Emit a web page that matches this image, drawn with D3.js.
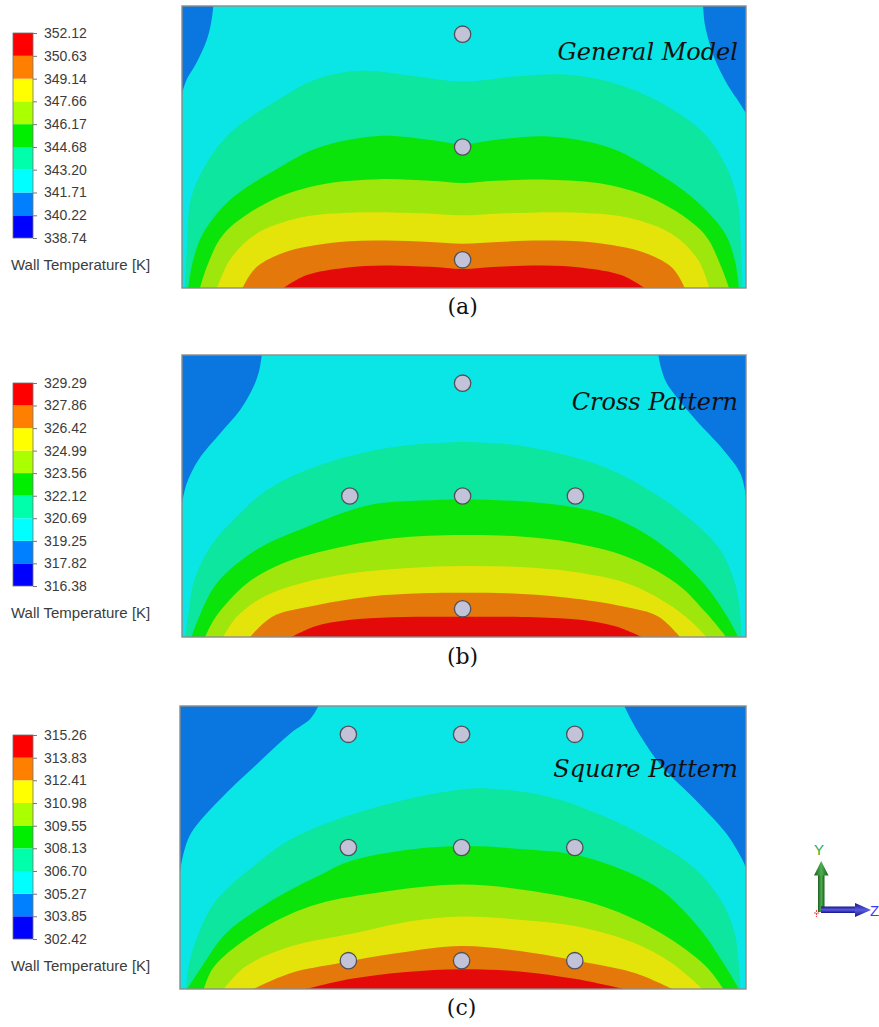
<!DOCTYPE html>
<html>
<head>
<meta charset="utf-8">
<script src="https://cdn.jsdelivr.net/npm/d3@7"></script>
<style>
  body { margin: 0; background: #ffffff; }
  svg text { font-family: "Liberation Sans", Arial, sans-serif; }
</style>
</head>
<body>
<svg id="fig" width="879" height="1027"></svg>
<script>
// ---------- legend levels (wall temperature, K) ----------
const generalLevels = [338.74, 340.22, 341.71, 343.20, 344.68, 346.17, 347.66, 349.14, 350.63, 352.12];
const crossLevels   = [316.38, 317.82, 319.25, 320.69, 322.12, 323.56, 324.99, 326.42, 327.86, 329.29];
const squareLevels  = [302.42, 303.85, 305.27, 306.70, 308.13, 309.55, 310.98, 312.41, 313.83, 315.26];

const panelTitles = ["General Model", "Cross Pattern", "Square Pattern"];
const panelCaptions = ["(a)", "(b)", "(c)"];
const legendTitle = "Wall Temperature [K]";

// ---------- isotherm traces on the wall, [z, y] with z in 0..2, y in 0..1 ----------
// General model
const generalBlueL  = [[0.111,1],[0.105,0.95],[0.088,0.88],[0.052,0.80],[0.017,0.74],[0,0.69]];
const generalBlueR  = [[1.848,1],[1.855,0.93],[1.89,0.81],[1.935,0.72],[1.975,0.66],[2,0.62]];
const generalTeal   = [[0.011,0],[0.018,0.15],[0.03,0.31],[0.08,0.43],[0.17,0.55],[0.34,0.667],[0.47,0.738],[0.63,0.77],[0.82,0.752],[0.995,0.732],[1.18,0.75],[1.36,0.757],[1.52,0.73],[1.68,0.667],[1.85,0.55],[1.93,0.43],[1.97,0.31],[1.982,0.15],[1.988,0]];
const generalGreen  = [[0.022,0],[0.04,0.10],[0.075,0.194],[0.17,0.312],[0.35,0.43],[0.49,0.50],[0.70,0.539],[0.88,0.525],[0.995,0.51],[1.11,0.525],[1.30,0.537],[1.51,0.50],[1.65,0.43],[1.82,0.312],[1.925,0.194],[1.96,0.10],[1.975,0]];
const generalLime   = [[0.064,0],[0.09,0.08],[0.15,0.194],[0.32,0.312],[0.50,0.368],[0.70,0.386],[0.88,0.38],[0.995,0.372],[1.11,0.38],[1.30,0.384],[1.50,0.368],[1.68,0.312],[1.85,0.194],[1.91,0.08],[1.94,0]];
const generalYellow = [[0.125,0],[0.17,0.10],[0.26,0.19],[0.42,0.25],[0.62,0.268],[0.85,0.265],[0.995,0.258],[1.15,0.265],[1.38,0.268],[1.58,0.25],[1.74,0.19],[1.83,0.10],[1.87,0]];
const generalOrange = [[0.215,0],[0.26,0.07],[0.36,0.125],[0.55,0.162],[0.72,0.168],[0.88,0.163],[0.995,0.157],[1.12,0.163],[1.28,0.168],[1.45,0.162],[1.64,0.125],[1.74,0.07],[1.783,0]];
const generalRed    = [[0.36,0],[0.44,0.045],[0.58,0.072],[0.72,0.08],[0.88,0.075],[0.995,0.067],[1.12,0.075],[1.28,0.08],[1.42,0.072],[1.56,0.045],[1.64,0]];

// Cross pattern
const crossBlueL  = [[0.283,1],[0.275,0.95],[0.259,0.90],[0.206,0.805],[0.135,0.722],[0.058,0.628],[0.017,0.545],[0,0.474]];
const crossBlueR  = [[1.689,1],[1.70,0.95],[1.719,0.90],[1.813,0.78],[1.92,0.663],[1.98,0.58],[2,0.50]];
const crossTeal   = [[0.012,0],[0.025,0.10],[0.04,0.19],[0.094,0.31],[0.194,0.427],[0.30,0.52],[0.442,0.592],[0.631,0.651],[0.80,0.68],[0.95,0.69],[1.05,0.69],[1.22,0.675],[1.46,0.616],[1.636,0.533],[1.79,0.427],[1.908,0.309],[1.967,0.167],[1.985,0]];
const crossGreen  = [[0.034,0],[0.06,0.07],[0.123,0.19],[0.265,0.31],[0.442,0.39],[0.60,0.45],[0.70,0.474],[0.85,0.484],[0.995,0.488],[1.22,0.48],[1.39,0.46],[1.52,0.427],[1.695,0.332],[1.85,0.19],[1.935,0.07],[1.972,0]];
const crossLime   = [[0.082,0],[0.12,0.072],[0.23,0.19],[0.354,0.26],[0.525,0.31],[0.75,0.35],[0.995,0.362],[1.20,0.356],[1.38,0.335],[1.577,0.285],[1.754,0.19],[1.86,0.084],[1.93,0]];
const crossYellow = [[0.146,0],[0.194,0.072],[0.29,0.143],[0.42,0.19],[0.60,0.226],[0.80,0.245],[0.995,0.252],[1.20,0.248],[1.38,0.232],[1.58,0.19],[1.72,0.12],[1.80,0.06],[1.86,0]];
const crossOrange = [[0.241,0],[0.32,0.072],[0.449,0.107],[0.66,0.143],[0.85,0.155],[0.995,0.157],[1.15,0.155],[1.36,0.14],[1.57,0.107],[1.69,0.072],[1.766,0]];
const crossRed    = [[0.389,0],[0.47,0.037],[0.59,0.06],[0.75,0.07],[0.995,0.072],[1.25,0.07],[1.42,0.06],[1.54,0.037],[1.63,0]];

// Square pattern
const squareBlueL  = [[0.489,1],[0.46,0.954],[0.395,0.907],[0.265,0.788],[0.141,0.67],[0.04,0.552],[0.01,0.469],[0,0.41]];
const squareBlueR  = [[1.57,1],[1.595,0.95],[1.63,0.89],[1.70,0.79],[1.82,0.67],[1.93,0.55],[1.98,0.47],[2,0.43]];
const squareTeal   = [[0.022,0],[0.03,0.079],[0.066,0.197],[0.13,0.316],[0.26,0.434],[0.39,0.528],[0.59,0.611],[0.80,0.67],[0.995,0.705],[1.10,0.708],[1.30,0.68],[1.45,0.63],[1.62,0.552],[1.81,0.434],[1.91,0.316],[1.96,0.197],[1.975,0.08],[1.98,0]];
const squareGreen  = [[0.025,0],[0.077,0.079],[0.163,0.197],[0.33,0.316],[0.49,0.40],[0.60,0.451],[0.77,0.487],[0.995,0.505],[1.20,0.495],[1.42,0.469],[1.68,0.363],[1.83,0.221],[1.92,0.092],[1.975,0]];
const squareLime   = [[0.084,0],[0.12,0.079],[0.265,0.197],[0.46,0.292],[0.69,0.339],[0.995,0.369],[1.25,0.345],[1.50,0.29],[1.70,0.197],[1.86,0.079],[1.92,0]];
const squareYellow = [[0.155,0],[0.23,0.079],[0.39,0.15],[0.615,0.197],[0.82,0.24],[0.995,0.256],[1.2,0.245],[1.40,0.222],[1.60,0.165],[1.74,0.09],[1.846,0]];
const squareOrange = [[0.259,0],[0.39,0.056],[0.56,0.091],[0.77,0.127],[0.995,0.152],[1.23,0.13],[1.44,0.093],[1.61,0.056],[1.74,0]];
const squareRed    = [[0.447,0],[0.60,0.035],[0.80,0.06],[0.995,0.07],[1.20,0.062],[1.40,0.035],[1.567,0]];

// ---------- thermocouple / probe locations [z, y] ----------
const generalProbes = [[0.995,0.9],[0.995,0.5],[0.995,0.1]];
const crossProbes   = [[0.995,0.9],[0.595,0.5],[0.995,0.5],[1.395,0.5],[0.995,0.1]];
const squareProbes  = [[0.595,0.9],[0.995,0.9],[1.395,0.9],[0.595,0.5],[0.995,0.5],[1.395,0.5],[0.595,0.1],[0.995,0.1],[1.395,0.1]];

// ---------- colours ----------
// legend (flat) and surface (shaded) colours, coldest band first
const legendColors  = ["#0000ff","#0080ff","#00ffff","#00ffaa","#00ee00","#aaff00","#ffff00","#ff8000","#ff0000"];
const surfaceColors = ["#0a0ae3","#0a76e0","#0ae6e6","#0ce69e","#0ae40a","#9ee60b","#e4e40b","#e4780a","#e40a0a"];

// ---------- layout ----------
const layout = [
  { x0: 182, x1: 746, y0: 6,   y1: 288, barTop: 33,  barBot: 238, capY: 314,  titleY: 60 },
  { x0: 182, x1: 746, y0: 355, y1: 637, barTop: 383, barBot: 586, capY: 664,  titleY: 410 },
  { x0: 180, x1: 746, y0: 706, y1: 989, barTop: 735, barBot: 939, capY: 1015, titleY: 777 }
];

const panels = [
  { levels: generalLevels, blueL: generalBlueL, blueR: generalBlueR,
    arches: [generalTeal, generalGreen, generalLime, generalYellow, generalOrange, generalRed], probes: generalProbes },
  { levels: crossLevels, blueL: crossBlueL, blueR: crossBlueR,
    arches: [crossTeal, crossGreen, crossLime, crossYellow, crossOrange, crossRed], probes: crossProbes },
  { levels: squareLevels, blueL: squareBlueL, blueR: squareBlueR,
    arches: [squareTeal, squareGreen, squareLime, squareYellow, squareOrange, squareRed], probes: squareProbes }
];

const svg = d3.select("#fig");
svg.append("rect").attr("width", 879).attr("height", 1027).attr("fill", "#ffffff");

panels.forEach((p, i) => {
  const L = layout[i];
  const x = d3.scaleLinear().domain([0, 2]).range([L.x0, L.x1]);
  const y = d3.scaleLinear().domain([0, 1]).range([L.y1, L.y0]);
  const line = d3.line().x(d => x(d[0])).y(d => y(d[1])).curve(d3.curveCatmullRom.alpha(0.5));

  const clipId = "wall" + i;
  svg.append("clipPath").attr("id", clipId)
    .append("rect").attr("x", L.x0).attr("y", L.y0)
    .attr("width", L.x1 - L.x0).attr("height", L.y1 - L.y0);

  const g = svg.append("g").attr("clip-path", `url(#${clipId})`);

  // base band (cyan) covering the wall
  g.append("rect").attr("x", L.x0).attr("y", L.y0)
    .attr("width", L.x1 - L.x0).attr("height", L.y1 - L.y0)
    .attr("fill", surfaceColors[2]);

  // cooler corners at the top edge
  const lp = p.blueL;
  g.append("path")
    .attr("d", line(lp) + `L${x(-0.05)},${y(lp[lp.length - 1][1])}L${x(-0.05)},${y(1.05)}L${x(lp[0][0])},${y(1.05)}Z`)
    .attr("fill", surfaceColors[1]);
  const rp = p.blueR;
  g.append("path")
    .attr("d", line(rp) + `L${x(2.05)},${y(rp[rp.length - 1][1])}L${x(2.05)},${y(1.05)}L${x(rp[0][0])},${y(1.05)}Z`)
    .attr("fill", surfaceColors[1]);

  // warmer bands rising from the heated bottom edge
  p.arches.forEach((pts, k) => {
    const first = pts[0], last = pts[pts.length - 1];
    g.append("path")
      .attr("d", line(pts) + `L${x(last[0])},${y(-0.05)}L${x(first[0])},${y(-0.05)}Z`)
      .attr("fill", surfaceColors[3 + k]);
  });

  // wall outline
  svg.append("rect").attr("x", L.x0).attr("y", L.y0)
    .attr("width", L.x1 - L.x0).attr("height", L.y1 - L.y0)
    .attr("fill", "none").attr("stroke", "#8c8c8c").attr("stroke-width", 1.4);

  // probes
  svg.append("g").selectAll("circle").data(p.probes).join("circle")
    .attr("cx", d => x(d[0])).attr("cy", d => y(d[1])).attr("r", 8.2)
    .attr("fill", "#c2c2d8").attr("stroke", "#505058").attr("stroke-width", 1.3);

  // panel title
  svg.append("text").attr("x", L.x1 - 8).attr("y", L.titleY)
    .attr("text-anchor", "end")
    .style("font-family", "'DejaVu Serif', serif").style("font-style", "italic")
    .style("font-size", "24px").attr("fill", "#111")
    .text(panelTitles[i]);

  // caption
  svg.append("text").attr("x", x(0.995)).attr("y", L.capY)
    .attr("text-anchor", "middle")
    .style("font-family", "'DejaVu Serif', serif").style("font-size", "22px").attr("fill", "#111")
    .text(panelCaptions[i]);

  // ---------- colour legend ----------
  const lv = p.levels;
  const ls = d3.scaleLinear().domain([lv[0], lv[lv.length - 1]]).range([L.barBot, L.barTop]);
  const lg = svg.append("g");
  lg.selectAll("rect.band").data(d3.range(lv.length - 1)).join("rect")
    .attr("class", "band")
    .attr("x", 13).attr("width", 20)
    .attr("y", k => ls(lv[k + 1])).attr("height", k => ls(lv[k]) - ls(lv[k + 1]))
    .attr("fill", k => legendColors[k]);
  lg.append("rect").attr("x", 13).attr("y", L.barTop).attr("width", 20).attr("height", L.barBot - L.barTop)
    .attr("fill", "none").attr("stroke", "#707070").attr("stroke-width", 0.8);

  const axis = d3.axisRight(ls).tickValues(lv).tickFormat(d3.format(".2f")).tickSize(4).tickPadding(7);
  const ag = lg.append("g").attr("transform", "translate(33,0)").call(axis);
  ag.select(".domain").remove();
  ag.selectAll(".tick line").attr("stroke", "#777");
  ag.selectAll(".tick text").attr("fill", "#3c3c3c")
    .style("font-family", "'Liberation Sans', Arial, sans-serif").style("font-size", "14px");

  lg.append("text").attr("x", 11).attr("y", L.barBot + 32)
    .attr("fill", "#3c3c3c").style("font-size", "15px")
    .text(legendTitle);
});

// ---------- orientation triad ----------
const defs = svg.append("defs");
const gy = defs.append("linearGradient").attr("id", "yShade").attr("x1", "0").attr("x2", "1");
gy.append("stop").attr("offset", "0").attr("stop-color", "#1b5e1b");
gy.append("stop").attr("offset", "0.5").attr("stop-color", "#4caf50");
gy.append("stop").attr("offset", "1").attr("stop-color", "#1b5e1b");
const gz = defs.append("linearGradient").attr("id", "zShade").attr("x1", "0").attr("x2", "0").attr("y1", "0").attr("y2", "1");
gz.append("stop").attr("offset", "0").attr("stop-color", "#15158a");
gz.append("stop").attr("offset", "0.5").attr("stop-color", "#5a5ae0");
gz.append("stop").attr("offset", "1").attr("stop-color", "#15158a");

const triad = svg.append("g");
triad.append("rect").attr("x", 818).attr("y", 874).attr("width", 6.5).attr("height", 38).attr("fill", "url(#yShade)");
triad.append("path").attr("d", "M814,875.5 L828.5,875.5 L821.2,861 Z").attr("fill", "url(#yShade)");
triad.append("rect").attr("x", 821).attr("y", 906.5).attr("width", 36).attr("height", 6.5).attr("fill", "url(#zShade)");
triad.append("path").attr("d", "M855,903 L855,917 L871,910 Z").attr("fill", "url(#zShade)");
triad.append("path").attr("d", "M814,913 L819,913 M816.5,910 L816.5,917").attr("stroke", "#ff4040").attr("stroke-width", 1).attr("stroke-dasharray", "2,1");
triad.append("text").attr("x", 819).attr("y", 855).attr("text-anchor", "middle")
  .attr("fill", "#3aa83a").style("font-size", "15px").text("Y");
triad.append("text").attr("x", 870).attr("y", 916)
  .attr("fill", "#3a3aff").style("font-size", "15px").text("Z");
</script>
</body>
</html>
